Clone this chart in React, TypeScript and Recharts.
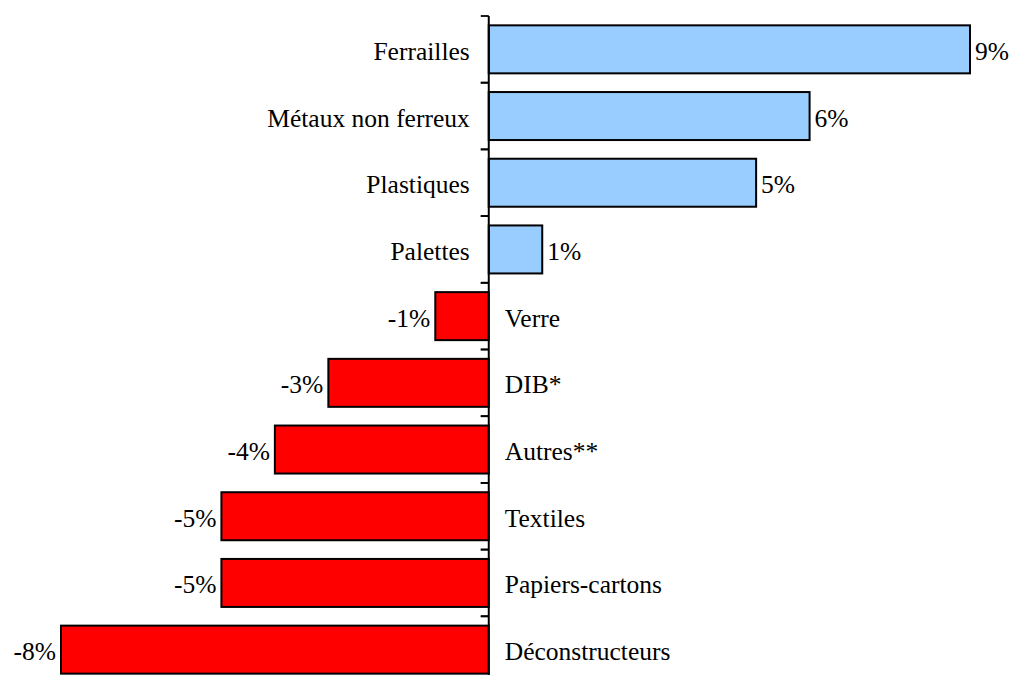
import React from 'react';
import { BarChart, Bar, XAxis, YAxis, ReferenceLine } from 'recharts';

const categories = [
  'Ferrailles',
  'Métaux non ferreux',
  'Plastiques',
  'Palettes',
  'Verre',
  'DIB*',
  'Autres**',
  'Textiles',
  'Papiers-cartons',
  'Déconstructeurs',
];
const values = [9, 6, 5, 1, -1, -3, -4, -5, -5, -8];
const xDomain: [number, number] = [-8, 9];

const POSITIVE_COLOR = '#99CCFF';
const NEGATIVE_COLOR = '#FF0000';
const GAP = 0.14;
const FONT = '"Liberation Serif", "Times New Roman", serif';
const FONT_SIZE = 25.5;

const data = categories.map((name, i) => ({ name, value: values[i] }));

function BarShape(props: any) {
  const { x, y, width, height, payload } = props;
  const left = Math.min(x, x + width);
  const right = Math.max(x, x + width);
  const w = right - left;
  const positive = payload.value >= 0;
  const zero = positive ? left : right;
  const band = height / (1 - 2 * GAP);
  const pad = band * GAP;
  const cy = y + height / 2 + 2;
  const label = `${payload.value}%`;
  return (
    <g>
      <rect
        x={left}
        y={y}
        width={w}
        height={height}
        fill={positive ? POSITIVE_COLOR : NEGATIVE_COLOR}
        stroke="#000"
        strokeWidth={2}
      />
      <line x1={zero - 8} x2={zero} y1={y - pad} y2={y - pad} stroke="#000" strokeWidth={1.8} />
      <line
        x1={zero - 8}
        x2={zero}
        y1={y + height + pad}
        y2={y + height + pad}
        stroke="#000"
        strokeWidth={1.8}
      />
      <text
        x={positive ? zero - 19 : zero + 16}
        y={cy}
        textAnchor={positive ? 'end' : 'start'}
        dominantBaseline="central"
        fontFamily={FONT}
        fontSize={FONT_SIZE}
        fill="#000"
      >
        {payload.name}
      </text>
      <text
        x={positive ? right + 5 : left - 5}
        y={cy}
        textAnchor={positive ? 'start' : 'end'}
        dominantBaseline="central"
        fontFamily={FONT}
        fontSize={FONT_SIZE}
        fill="#000"
      >
        {label}
      </text>
    </g>
  );
}

export default function App() {
  return (
    <div style={{ position: 'absolute', left: 0, top: 0, background: '#fff' }}>
      <BarChart
        width={1012}
        height={688}
        data={data}
        layout="vertical"
        margin={{ top: 16, right: 42, bottom: 5, left: 61 }}
        barCategoryGap={`${GAP * 100}%`}
      >
        <XAxis type="number" domain={xDomain} hide />
        <YAxis type="category" dataKey="name" hide />
        <Bar dataKey="value" isAnimationActive={false} shape={BarShape} />
        <ReferenceLine x={0} stroke="#000" strokeWidth={2} />
      </BarChart>
    </div>
  );
}
